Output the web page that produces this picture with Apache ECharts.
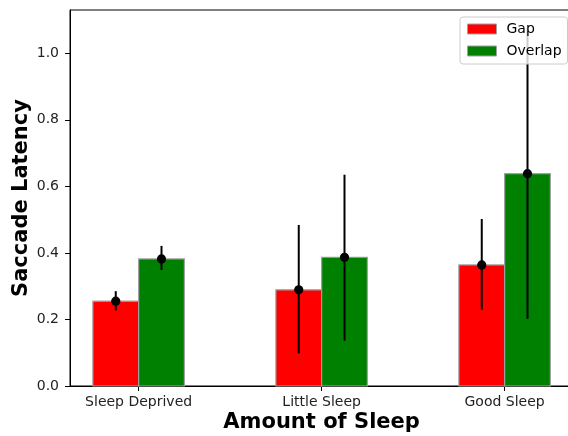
<!DOCTYPE html>
<html>
<head>
<meta charset="utf-8">
<script src="https://cdn.jsdelivr.net/npm/echarts@6/dist/echarts.min.js"></script>
<style>html,body{margin:0;padding:0;background:#fff}#c{width:568px;height:436px}</style>
</head>
<body>
<div id="c"></div>
<script>
const categories = ['Sleep Deprived', 'Little Sleep', 'Good Sleep'];
const gapMeans = [0.255, 0.289, 0.364];
const overlapMeans = [0.382, 0.387, 0.638];
const gapErrLow = [0.227, 0.098, 0.229];
const gapErrHigh = [0.285, 0.484, 0.502];
const overlapErrLow = [0.349, 0.136, 0.202];
const overlapErrHigh = [0.421, 0.635, 1.075];
const yTicks = [0, 0.2, 0.4, 0.6, 0.8, 1.0];

const BAR_W = 0.25;
const xIdx = categories.map((c, i) => i);

function barData(means, offset) {
  return means.map((v, i) => [i + offset, v]);
}
function errData(means, lo, hi, offset) {
  return means.map((v, i) => [i + offset, v, lo[i], hi[i]]);
}

function renderBar(params, api) {
  const x = api.value(0), y = api.value(1);
  const p1 = api.coord([x - BAR_W / 2, y]);
  const p2 = api.coord([x + BAR_W / 2, 0]);
  return {
    type: 'rect',
    shape: { x: p1[0], y: p1[1], width: p2[0] - p1[0], height: p2[1] - p1[1] },
    style: { fill: api.visual('color'), stroke: '#a0a0a0', lineWidth: 1.2 }
  };
}
function renderErr(params, api) {
  const x = api.value(0), y = api.value(1);
  const c = api.coord([x, y]);
  const lo = api.coord([x, api.value(2)]);
  const hi = api.coord([x, api.value(3)]);
  return {
    type: 'group',
    children: [
      { type: 'line', shape: { x1: lo[0], y1: lo[1], x2: hi[0], y2: hi[1] }, style: { stroke: '#000', lineWidth: 2 } },
      { type: 'circle', shape: { cx: c[0], cy: c[1], r: 4.6 }, style: { fill: '#000' } }
    ]
  };
}

const chart = echarts.init(document.getElementById('c'), null, { renderer: 'canvas' });
const font = 'DejaVu Sans';
chart.setOption({
  animation: false,
  textStyle: { fontFamily: font },
  grid: { left: 70, top: 10, width: 503.25, bottom: 50, outerBoundsMode: 'none', containLabel: false, show: true, borderColor: '#000', borderWidth: 1, backgroundColor: 'transparent' },
  legend: {
    data: ['Gap', 'Overlap'],
    orient: 'vertical',
    left: 460, top: 17,
    icon: 'rect',
    itemWidth: 29, itemHeight: 10,
    itemGap: 8,
    padding: [5, 6, 6, 7],
    backgroundColor: 'rgba(255,255,255,0.8)',
    borderColor: '#cccccc', borderWidth: 1, borderRadius: 3,
    textStyle: { fontFamily: font, fontSize: 14, color: '#000', padding: [0, 3, 0, 5] },
    itemStyle: { borderColor: '#a0a0a0', borderWidth: 1 }
  },
  xAxis: {
    type: 'value', min: -0.375, max: 2.375,
    name: 'Amount of Sleep', nameLocation: 'middle', nameGap: 26, nameMoveOverlap: false,
    nameTextStyle: { fontFamily: font, fontSize: 21, fontWeight: 'bold', color: '#000' },
    axisLine: { show: true, onZero: false, lineStyle: { color: '#000', width: 1 } },
    axisTick: { show: true, length: 5, lineStyle: { color: '#000' }, customValues: xIdx },
    axisLabel: { fontFamily: font, fontSize: 14, color: '#222', margin: 9, customValues: xIdx, formatter: v => categories[Math.round(v)] },
    splitLine: { show: false }
  },
  yAxis: {
    type: 'value', min: 0, max: 1.13,
    name: 'Saccade Latency', nameLocation: 'middle', nameGap: 38, nameMoveOverlap: false,
    nameTextStyle: { fontFamily: font, fontSize: 21, fontWeight: 'bold', color: '#000' },
    axisLine: { show: true, onZero: false, lineStyle: { color: '#000', width: 1 } },
    axisTick: { show: true, length: 5, lineStyle: { color: '#000' }, customValues: yTicks },
    axisLabel: { fontFamily: font, fontSize: 14, color: '#222', margin: 11, customValues: yTicks, formatter: v => v.toFixed(1) },
    splitLine: { show: false }
  },
  series: [
    { name: 'Gap', type: 'custom', renderItem: renderBar, itemStyle: { color: '#ff0000' }, data: barData(gapMeans, -BAR_W / 2), encode: { x: 0, y: 1 }, z: 2 },
    { name: 'Overlap', type: 'custom', renderItem: renderBar, itemStyle: { color: '#008000' }, data: barData(overlapMeans, BAR_W / 2), encode: { x: 0, y: 1 }, z: 2 },
    { name: 'gapErr', type: 'custom', renderItem: renderErr, data: errData(gapMeans, gapErrLow, gapErrHigh, -BAR_W / 2), encode: { x: 0, y: [1, 2, 3] }, z: 3 },
    { name: 'overlapErr', type: 'custom', renderItem: renderErr, data: errData(overlapMeans, overlapErrLow, overlapErrHigh, BAR_W / 2), encode: { x: 0, y: [1, 2, 3] }, z: 3 }
  ]
});
</script>
</body>
</html>
